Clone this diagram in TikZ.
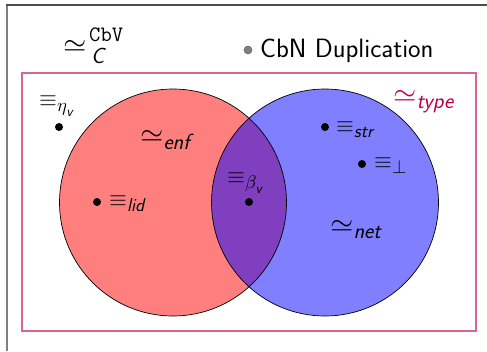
\documentclass[tikz,border=0pt]{standalone}
\usepackage{amsmath}
\usepackage{fontspec}
\usepackage{unicode-math}
\setmathfont{Latin Modern Math}
\DeclareMathSizes{30}{30}{22}{17}
\DeclareMathSizes{23}{23}{18.5}{14}
\newcommand\sit[1]{\text{\sffamily\itshape #1}}
\newcommand\sitr[1]{\text{\raisebox{3pt}{\sffamily\itshape #1}}}
\begin{document}
\begin{tikzpicture}[x=1pt,y=-1pt,
  simlbl/.style={inner sep=0pt, anchor=base west, font=\fontsize{30}{36}\selectfont},
  eqlbl/.style={inner sep=0pt, anchor=base west, font=\fontsize{23}{27}\selectfont},
  dot/.style={circle, fill=black, inner sep=0pt, minimum size=8pt},
  gdot/.style={circle, fill=gray, draw=black!70, line width=0.4pt, inner sep=0pt, minimum size=8pt}]
\useasboundingbox (0,0) rectangle (487,351);
% frame
\draw[gray, line width=2pt] (7,351) -- (7,5);
\draw[black!70, line width=1.5pt] (6,5) -- (487,5);
% type rectangle
\draw[purple!60, line width=1.5pt] (22,73) rectangle (476,331);
% circles
\fill[red, fill opacity=0.5] (173,202.5) circle (113.5pt);
\fill[blue, fill opacity=0.5] (325,202.5) circle (113.5pt);
\draw[black, line width=0.7pt] (173,202.5) circle (113.5pt);
\draw[black, line width=0.7pt] (325,202.5) circle (113.5pt);
% header
\node[simlbl] (cbv) at (63,54) {$\simeq$};
\node[inner sep=0pt, anchor=base west, font=\fontsize{22}{26}\selectfont\ttfamily] (cbvsup) at (89,41) {CbV};
\node[inner sep=0pt, anchor=base west, font=\fontsize{22}{26}\selectfont\sffamily\itshape] (cbvsub) at (91,63) {C};
\node[gdot] (gd) at (248,50) {};
\node[inner sep=0pt, anchor=base west, font=\fontsize{26.5}{30}\selectfont\sffamily] (dup) at (260,57) {CbN Duplication};
% labels
\node[eqlbl] (eta) at (39,106) {$\equiv_{\eta_{\sit{v}}}$};
\node[dot] (deta) at (59,127) {};
\node[simlbl] (enf) at (140,144) {$\simeq_{\sitr{enf}}$};
\node[dot] (dlid) at (97,202) {};
\node[eqlbl] (lid) at (109,206) {$\equiv_{\sit{lid}}$};
\node[eqlbl] (beta) at (227,183) {$\equiv_{\beta_{\sit{v}}}$};
\node[dot] (dbeta) at (249,202) {};
\node[dot] (dstr) at (325,127) {};
\node[eqlbl] (str) at (336,132) {$\equiv_{\sit{str}}$};
\node[dot] (dbot) at (362,164) {};
\node[eqlbl] (bot) at (374,168) {$\equiv_{\bot}$};
\node[simlbl] (net) at (330,234) {$\simeq_{\sitr{net}}$};
\node[simlbl, text=purple] (type) at (393,104) {$\simeq_{\sitr{type}}$};
\end{tikzpicture}
\end{document}
